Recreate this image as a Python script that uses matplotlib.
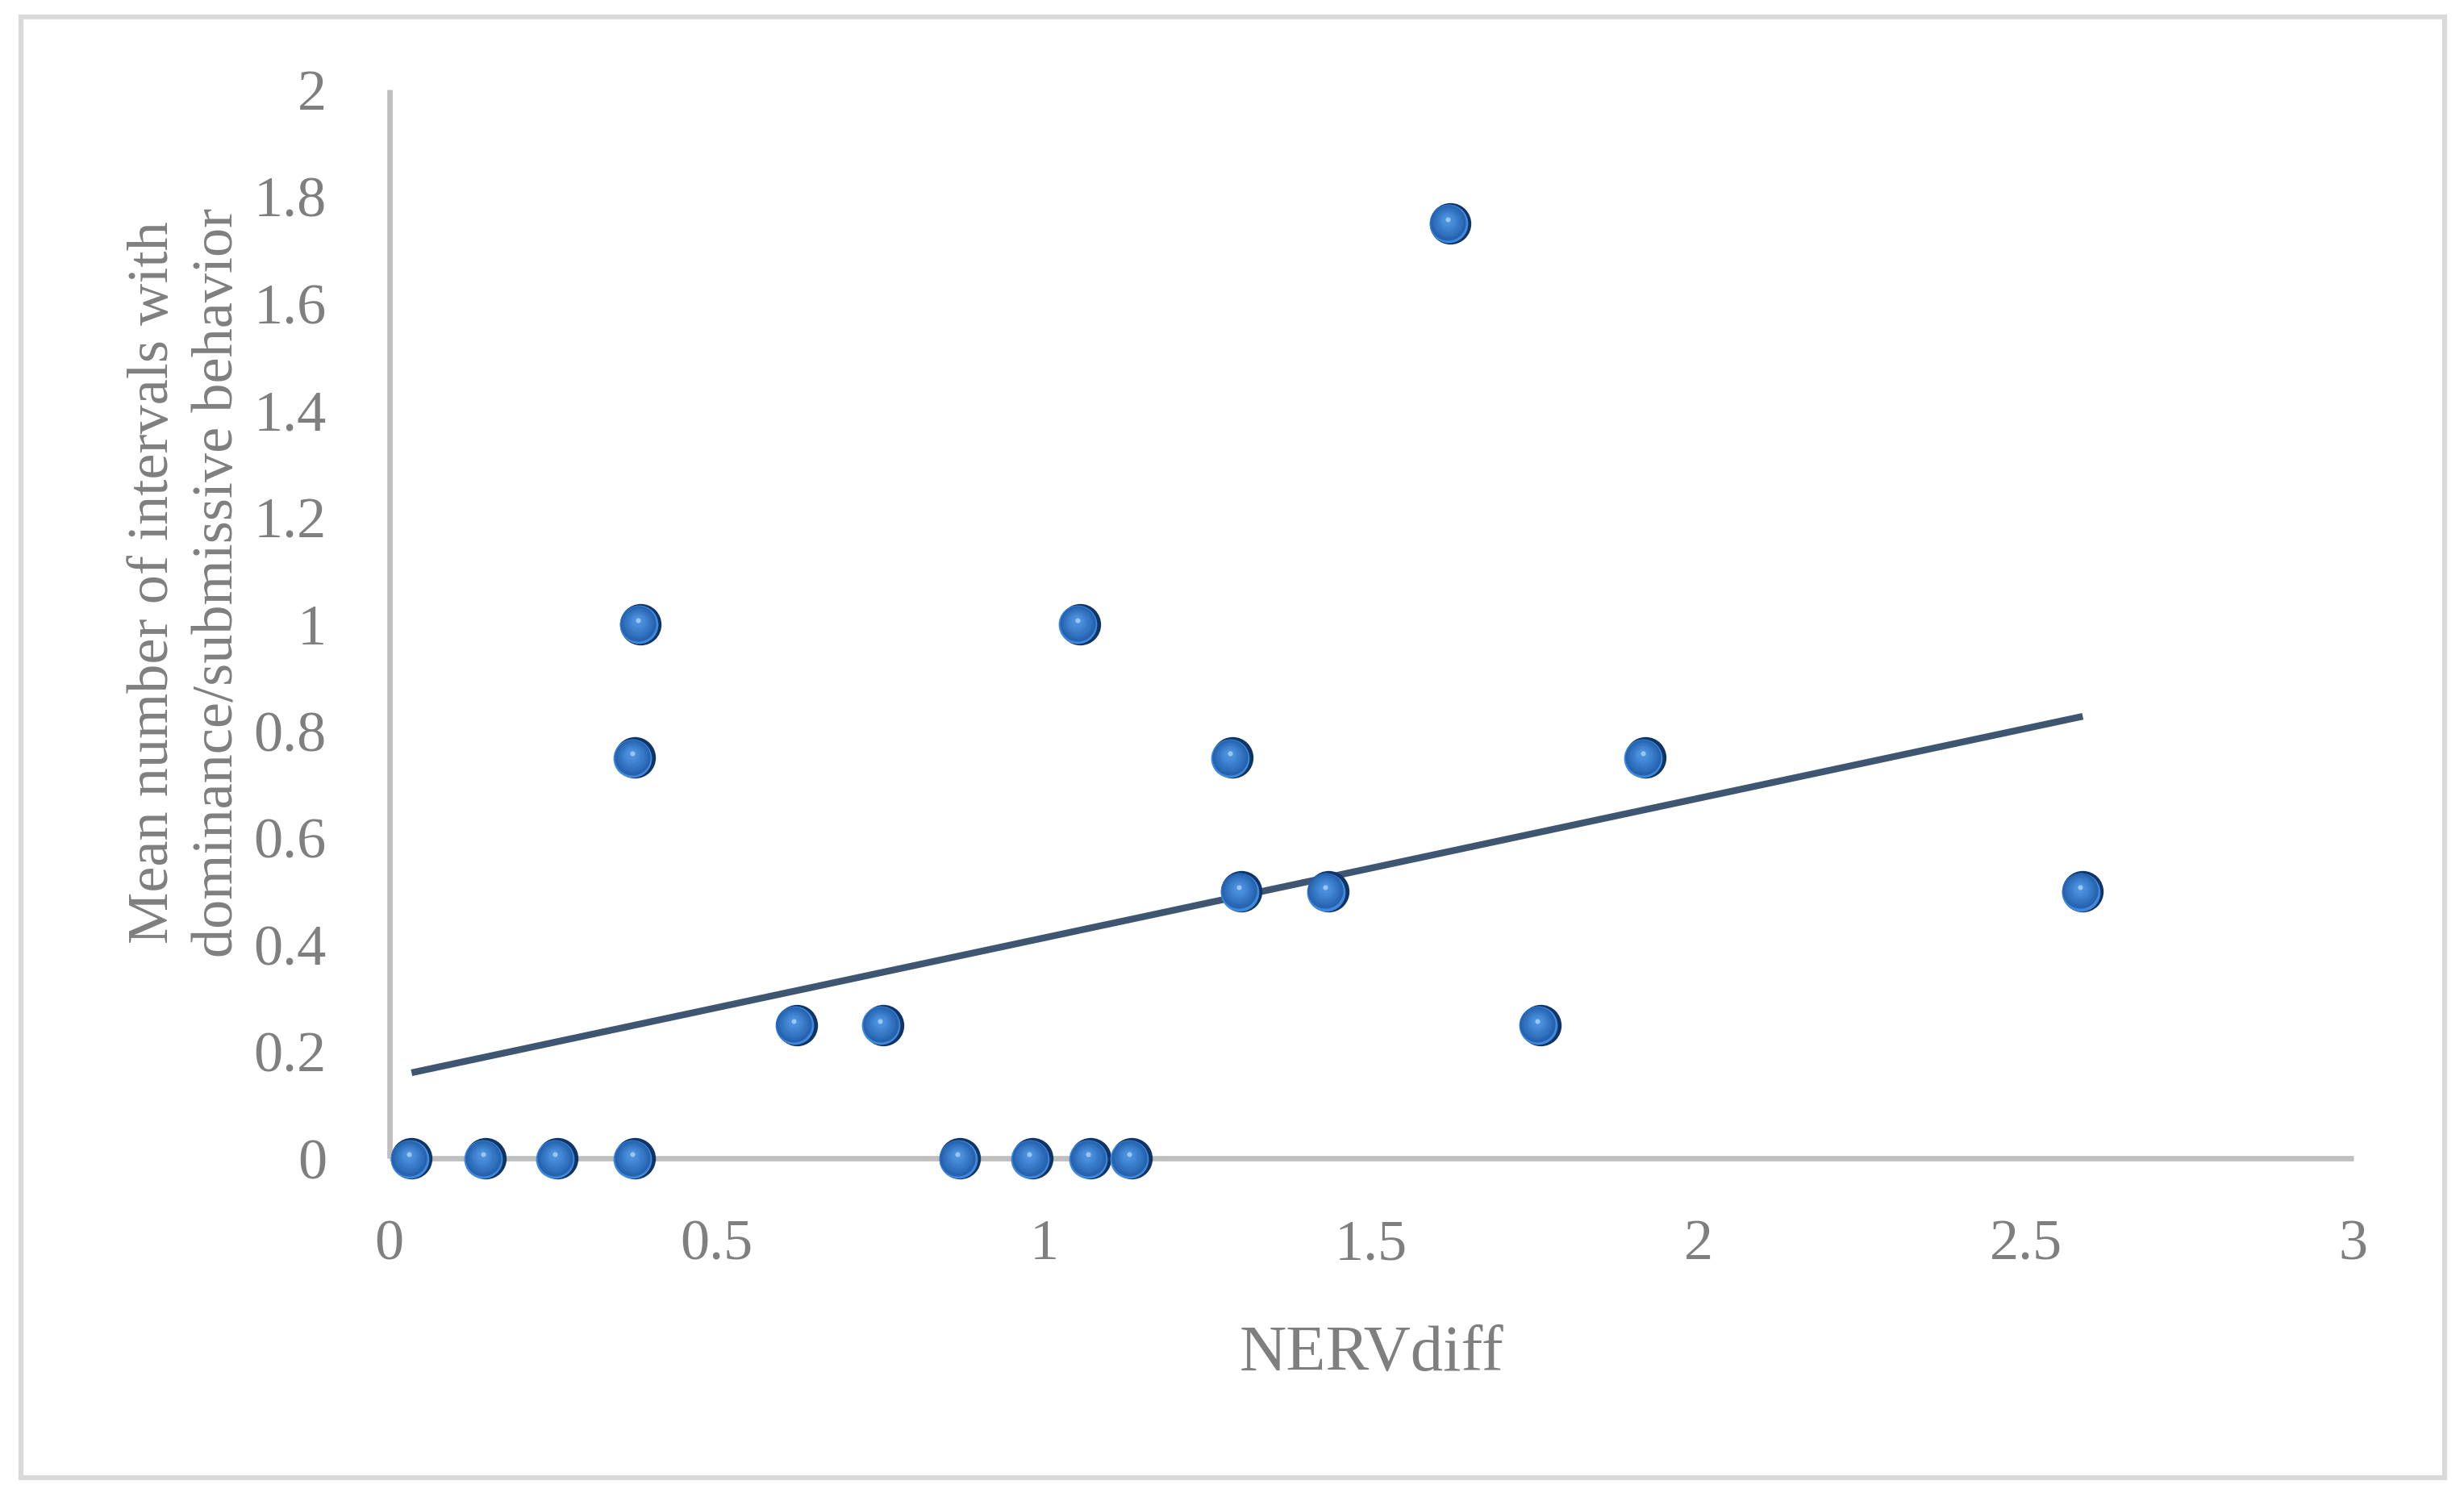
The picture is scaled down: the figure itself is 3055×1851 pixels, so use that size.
import numpy as np
import matplotlib
matplotlib.use("Agg")
import matplotlib.pyplot as plt
import matplotlib.transforms as mtransforms
from matplotlib.patches import Rectangle

# ---- data ----
nerv_diff = [0.034, 0.147, 0.257, 0.375, 0.872, 0.982, 1.071, 1.134,
             0.384, 0.375, 0.622, 0.754, 1.055, 1.288, 1.302, 1.434,
             1.621, 1.758, 1.919, 2.587]
mean_intervals = [0, 0, 0, 0, 0, 0, 0, 0,
                  1.0, 0.75, 0.25, 0.25, 1.0, 0.75, 0.5, 0.5,
                  1.75, 0.25, 0.75, 0.5]
x_ticks = [0, 0.5, 1, 1.5, 2, 2.5, 3]
x_tick_labels = ["0", "0.5", "1", "1.5", "2", "2.5", "3"]
y_ticks = [0, 0.2, 0.4, 0.6, 0.8, 1.0, 1.2, 1.4, 1.6, 1.8, 2.0]
y_tick_labels = ["0", "0.2", "0.4", "0.6", "0.8", "1", "1.2", "1.4", "1.6", "1.8", "2"]
x_label = "NERVdiff"
y_label = "Mean number of intervals with\ndominance/submissive behavior"

x = np.array(nerv_diff)
y = np.array(mean_intervals)

plt.rcParams['font.family'] = ['Liberation Serif', 'DejaVu Serif']
TXT = '#7f7f7f'
AX = '#bfbfbf'

fig = plt.figure(figsize=(15.275, 9.255), dpi=200)
ax = fig.add_axes([0.158, 0.224, 0.797, 0.716])

# trendline (linear least squares, spanning data range)
slope, intercept = np.polyfit(x, y, 1)
xt = np.array([x.min(), x.max()])
ax.plot(xt, slope * xt + intercept, color='#3e5672', lw=3.0,
        solid_capstyle='butt', zorder=3)

# spherical-looking markers: layered circles
ms = 18.5
def layer(size, color, dx, dy, z):
    off = mtransforms.offset_copy(ax.transData, fig=fig, x=dx, y=dy, units='points')
    ax.plot(x, y, 'o', ms=size, mfc=color, mec='none', transform=off,
            zorder=z, clip_on=False)

layer(ms, '#0f3465', 0, 0, 4)
layer(ms * 0.93, '#3f88dc', -1.0, -0.2, 5)
body0 = np.array(matplotlib.colors.to_rgb('#2563b0'))
body1 = np.array(matplotlib.colors.to_rgb('#4a8fdc'))
nl = 8
for k in range(nl):
    f = k / (nl - 1)
    col = body0 * (1 - f) + body1 * f
    layer(ms * (0.86 - 0.6 * f), col, -1.1 - 0.3 * f, 0.3 + 1.1 * f, 6 + k)
layer(ms * 0.12, '#9cc6f2', -1.2, 1.8, 20)

ax.set_xlim(0, 3)
ax.set_ylim(0, 2)
ax.set_xticks(x_ticks)
ax.set_xticklabels(x_tick_labels)
ax.set_yticks(y_ticks)
ax.set_yticklabels(y_tick_labels)
ax.tick_params(axis='both', length=0, labelsize=26, labelcolor=TXT)
ax.tick_params(axis='x', pad=27)
ax.tick_params(axis='y', pad=28)

for s in ['top', 'right']:
    ax.spines[s].set_visible(False)
for s in ['left', 'bottom']:
    ax.spines[s].set_color(AX)
    ax.spines[s].set_linewidth(2.4)
    ax.spines[s].set_capstyle('butt')

ax.set_xlabel(x_label, fontsize=29, color=TXT, labelpad=24)
fig.text(0.0755, 0.61, y_label, rotation=90, ha='center', va='center',
         fontsize=26, color=TXT, linespacing=1.3, multialignment='center')

# outer frame
fig.patches.append(Rectangle((0.0085, 0.0105), 0.9835, 0.978, transform=fig.transFigure,
                             fill=False, edgecolor='#d9d9d9', lw=2.2))

fig.savefig('out.png', dpi=200, facecolor='white')
